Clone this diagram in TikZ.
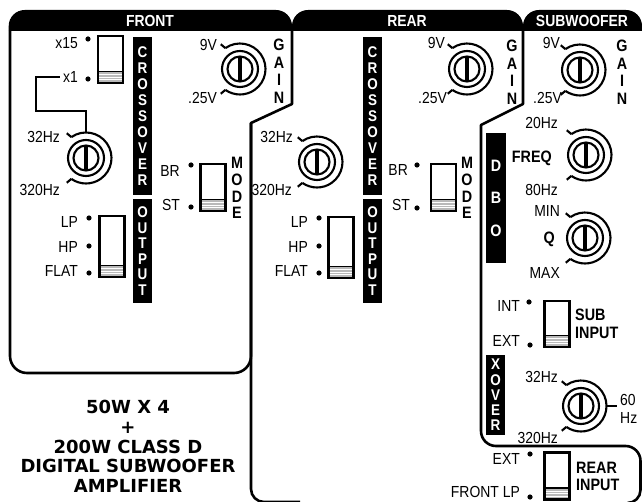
\documentclass[tikz,border=0pt]{standalone}
\usepackage{fontspec}
\newfontfamily\lab[FakeStretch=0.87]{Liberation Sans}
\newfontfamily\ampf{DejaVu Sans}
\tikzset{
  panel/.style={line width=2.6pt, line join=round},
  hdrtext/.style={text=white, font={\lab\bfseries\fontsize{16}{18}\selectfont}, inner sep=0},
  lbl/.style={font={\lab\fontsize{16}{18}\selectfont}, inner sep=0, anchor=base east, yshift=-5.7pt},
  lblb/.style={lbl, font={\lab\bfseries\fontsize{16.5}{18}\selectfont}},
  lblw/.style={lbl, anchor=base west},
  dotn/.style={circle, fill, inner sep=0, minimum size=5.2pt},
  bar/.style={fill=black, text=white, inner sep=0, minimum width=19.5pt, align=center},
  vword/.style={inner sep=0, align=center, font={\lab\bfseries\fontsize{16.5}{17.5}\selectfont}},
  swbox/.style={draw, line width=2.4pt, fill=white, minimum width=25pt, inner sep=0, outer sep=0},
  kline/.style={line width=2.1pt},
  conn/.style={line width=2.1pt},
  knob/.pic={
    \draw[kline] (125:25.5pt) arc (125:-125:25.5pt);
    \draw[kline] (125:25.5pt) -- ++(140:6pt);
    \draw[kline] (-125:25.5pt) -- ++(-140:6pt);
    \draw[kline] (0,0) circle (18pt);
    \draw[kline] (0,0) circle (12.5pt);
    \draw[line width=3.4pt] (0,12.5pt) -- (0,-12.5pt);
    \coordinate (-top) at (0,25.5pt);
    \coordinate (-right) at (25.5pt,0);
  }
}
\newcommand\mysw[3]{%
  \node[swbox, minimum height=#3pt] (#1) at (#2) {};
  \fill[gray!55] ([shift={(1.3pt,1.3pt)}]#1.south west) rectangle ([shift={(-1.3pt,11.5pt)}]#1.south east);
  \foreach \k in {3.6,6.0,8.4} \draw[white, line width=0.8pt] ([shift={(1.3pt,\k pt)}]#1.south west) -- ([shift={(-1.3pt,\k pt)}]#1.south east);
  \draw[line width=1.4pt] ([shift={(1.3pt,11.5pt)}]#1.south west) -- ([shift={(-1.3pt,11.5pt)}]#1.south east);
}
\begin{document}
\begin{tikzpicture}[x=1pt,y=1pt]
\useasboundingbox (0,0) rectangle (642,-502);
\clip (0,0) rectangle (642,-502);
% panel outlines
\draw[panel] (10,-31) -- (10,-356) arc (180:270:17) -- (234,-373) arc (270:360:17) -- (251,-123);
\draw[panel] (292,-31) -- (292,-104) -- (251,-123) -- (251,-489) arc (180:270:13) -- (300,-502);
\draw[panel] (523,-31) -- (523,-104) -- (481,-125) -- (481,-431) arc (180:270:15) -- (625.5,-446) arc (90:0:15) -- (640.5,-490) arc (0:-90:13);
% headers
\fill (8.7,-31) -- (8.7,-26) arc (180:90:16) -- (276,-10) arc (90:0:16) -- (292,-31) -- cycle;
\fill (292,-31) -- (292,-26) arc (180:90:16) -- (507,-10) arc (90:0:16) -- (523,-31) -- cycle;
\fill (523,-31) -- (523,-26) arc (180:90:16) -- (626,-10) arc (90:0:16) -- (642,-26) -- (642,-31) -- cycle;
\node[hdrtext] (hfront) at (150,-21) {FRONT};
\node[hdrtext] (hrear) at (407,-21) {REAR};
\node[hdrtext] (hsub) at (582,-21) {SUBWOOFER};

% ===== FRONT =====
\mysw{fsw1}{110.5,-59.5}{47}
\node[dotn] (fd15) at (88,-39) {};
\node[dotn] (fd1) at (88,-79) {};
\node[lbl] (fx15) at (78,-43) {x15};
\node[lbl] (fx1) at (78,-77) {x1};
\node[bar, minimum height=158pt, font={\lab\bfseries\fontsize{15.5}{16}\selectfont}] (fcross) at (142.5,-116) {C\\R\\O\\S\\S\\O\\V\\E\\R};
\node[bar, minimum height=104pt, font={\lab\bfseries\fontsize{15.5}{15.5}\selectfont}] (fout) at (142.5,-251) {O\\U\\T\\P\\U\\T};
\pic (fgain) at (240,-69) {knob};
\node[lbl] (f9v) at (217,-45) {9V};
\node[lbl] (f25v) at (217,-98) {.25V};
\node[vword] (fgainw) at (279,-71) {G\\A\\I\\N};
\pic (fxo) at (86,-158) {knob};
\node[lbl] (f32) at (60,-137) {32Hz};
\node[lbl] (f320) at (60,-190) {320Hz};
\draw[conn] ([xshift=-3pt]fx1.west) -| (36,-111) -| (fxo-top);
\mysw{fmode}{213,-187.5}{47}
\node[dotn] (fdbr) at (191,-165) {};
\node[dotn] (fdst) at (191,-207) {};
\node[lbl] (fbr) at (180,-171) {BR};
\node[lbl] (fst) at (180,-205) {ST};
\node[vword, font={\lab\bfseries\fontsize{16.5}{16.7}\selectfont}] (fmodew) at (237,-188) {M\\O\\D\\E};
\mysw{fout3}{112,-246.5}{61}
\node[dotn] (fdlp) at (89,-218) {};
\node[dotn] (fdhp) at (89,-246) {};
\node[dotn] (fdfl) at (89,-273) {};
\node[lbl] (flp) at (78,-222) {LP};
\node[lbl] (fhp) at (78,-247) {HP};
\node[lbl] (ffl) at (78,-271) {FLAT};

% ===== REAR =====
\node[bar, minimum height=158pt, font={\lab\bfseries\fontsize{15.5}{16}\selectfont}] (rcross) at (372.5,-116) {C\\R\\O\\S\\S\\O\\V\\E\\R};
\node[bar, minimum height=104pt, font={\lab\bfseries\fontsize{15.5}{15.5}\selectfont}] (rout) at (372.5,-251) {O\\U\\T\\P\\U\\T};
\pic (rgain) at (467,-69) {knob};
\node[lbl] (r9v) at (445,-43) {9V};
\node[lbl] (r25v) at (447,-98) {.25V};
\node[vword] (rgainw) at (512,-72) {G\\A\\I\\N};
\pic (rxo) at (317,-162) {knob};
\node[lbl] (r32) at (293,-137) {32Hz};
\node[lbl] (r320) at (292,-190) {320Hz};
\mysw{rmode}{443.5,-187.5}{47}
\node[dotn] (rdbr) at (417,-165) {};
\node[dotn] (rdst) at (417,-208) {};
\node[lbl] (rbr) at (408,-170) {BR};
\node[lbl] (rst) at (410,-205) {ST};
\node[vword, font={\lab\bfseries\fontsize{16.5}{16.7}\selectfont}] (rmodew) at (467,-188) {M\\O\\D\\E};
\mysw{rout3}{341,-247.5}{61}
\node[dotn] (rdlp) at (319,-218) {};
\node[dotn] (rdhp) at (319,-246) {};
\node[dotn] (rdfl) at (319,-273) {};
\node[lbl] (rlp) at (308,-222) {LP};
\node[lbl] (rhp) at (308,-247) {HP};
\node[lbl] (rfl) at (308,-271) {FLAT};

% ===== SUBWOOFER =====
\pic (sgain) at (580,-70) {knob};
\node[lbl] (s9v) at (560,-43) {9V};
\node[lbl] (s25v) at (562,-98) {.25V};
\node[vword] (sgainw) at (622,-72) {G\\A\\I\\N};
\node[bar, minimum height=130pt, font={\lab\bfseries\fontsize{16.5}{32.5}\selectfont}] (sdbo) at (496,-198) {D\\B\\O};
\pic (sfreq) at (586,-155) {knob};
\node[lbl] (s20) at (558,-123) {20Hz};
\node[lbl] (s80) at (558,-190) {80Hz};
\node[lblb] (sfreqw) at (552,-157) {FREQ};
\pic (sq) at (585,-238) {knob};
\node[lbl] (smin) at (560,-211) {MIN};
\node[lbl] (smax) at (560,-273) {MAX};
\node[lblb] (sqw) at (555,-238) {Q};
\mysw{ssubin}{557,-324}{46}
\node[dotn] (sdint) at (529,-302) {};
\node[dotn] (sdext) at (530,-345) {};
\node[lbl] (sint) at (520,-306) {INT};
\node[lbl] (sext) at (520,-341) {EXT};
\node[inner sep=0, align=left, anchor=west, font={\lab\bfseries\fontsize{16.5}{18}\selectfont}] (ssubw) at (575,-324) {SUB\\INPUT};
\node[bar, minimum height=80pt, font={\lab\bfseries\fontsize{15.5}{15.3}\selectfont}] (sxov) at (495.5,-395) {X\\O\\V\\E\\R};
\pic (sxo) at (581,-406) {knob};
\node[lbl] (sx32) at (558,-377) {32Hz};
\node[lbl] (sx320) at (558,-438) {320Hz};
\draw[kline] (sxo-right) -- ++(10,0) coordinate (s60tick);
\node[lblw] (s60) at (620,-400) {60};
\node[lblw] (s60hz) at (620,-418) {Hz};
\mysw{srearin}{557,-476}{47}
\node[dotn] (sdrext) at (530,-454) {};
\node[dotn] (sdrflp) at (530,-497) {};
\node[lbl] (srext) at (520,-459) {EXT};
\node[lbl] (srflp) at (520,-492) {FRONT LP};
\node[inner sep=0, align=left, anchor=west, font={\lab\bfseries\fontsize{16.5}{17}\selectfont}] (srearw) at (576,-476) {REAR\\INPUT};

% ===== title =====
\node[inner sep=0, align=center, font={\ampf\bfseries\fontsize{18}{19.8}\selectfont}] (title) at (128,-446.5) {50W X 4\\+\\200W CLASS D\\DIGITAL SUBWOOFER\\AMPLIFIER};
\end{tikzpicture}
\end{document}
